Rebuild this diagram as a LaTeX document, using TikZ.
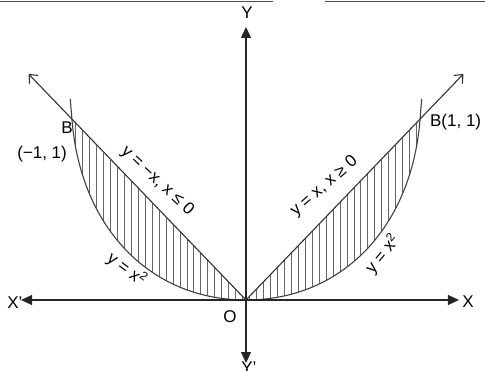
\documentclass[tikz,border=0pt]{standalone}
\usepackage{fontspec}
\setmainfont{Liberation Sans}
\usetikzlibrary{arrows.meta}
\tikzset{
  axis/.style={draw=black!85,line width=1.1bp,-{Triangle[length=11bp,width=10bp]}},
  ray/.style={draw=black!80,line width=1.1bp,-{Straight Barb[length=7bp,width=12bp]}},
  curve/.style={draw=black!75,line width=1.1bp},
  hatch/.style={draw=black!60,line width=0.6bp},
  lbl/.style={inner sep=0pt,font=\fontsize{17bp}{19bp}\selectfont},
}
\begin{document}
\begin{tikzpicture}[x=174bp,y=180bp]
  \useasboundingbox (-1.4138,-0.3944) rectangle (1.3736,1.6667);
  \draw[black!70,line width=1bp] (-1.4138,1.66) -- (0.155,1.66);
  \draw[black!70,line width=1bp] (0.454,1.66) -- (1.3736,1.66);
  \coordinate (O) at (0,0);
  \coordinate (xl) at (-1.293,0);
  \coordinate (xr) at (1.224,0);
  \coordinate (yt) at (0,1.517);
  \coordinate (yb) at (0,-0.35);
  \coordinate (ul) at (-1.25,1.256);
  \coordinate (ur) at (1.25,1.256);
  \begin{scope}
    \clip (-1,1) .. controls (-0.95,0.4) and (-0.55,0) .. (0,0)
      .. controls (0.55,0) and (0.95,0.4) .. (1,1) -- (0,0) -- cycle;
    \foreach \x in {-0.98,-0.94,...,1}
      \draw[hatch] (\x,0) -- (\x,1.05);
  \end{scope}
  \draw[curve] (-1.01,1.117) -- (-1,1) .. controls (-0.95,0.4) and (-0.55,0) .. (0,0)
    .. controls (0.55,0) and (0.95,0.4) .. (1,1) -- (1.01,1.117);
  \draw[axis] (O) -- (xr);
  \draw[axis] (O) -- (xl);
  \draw[axis] (O) -- (yt);
  \draw[axis] (O) -- (yb);
  \draw[ray] (O) -- (ul);
  \draw[ray] (O) -- (ur);
  \node[lbl] (Xr) at (1.276,-0.011) {X};
  \node[lbl] (Xl) at (-1.328,-0.017) {X’};
  \node[lbl] (Yt) at (0.006,1.594) {Y};
  \node[lbl] (Yb) at (0.017,-0.378) {Y’};
  \node[lbl] (Olbl) at (-0.092,-0.094) {O};
  \node[lbl] (Bl) at (-1.029,0.956) {B};
  \node[lbl] (Blc) at (-1.172,0.811) {(−1, 1)};
  \node[lbl,anchor=west] (Br) at (1.057,0.989) {B(1, 1)};
  \node[lbl,rotate=-43] (eql) at (-0.51,0.66) {y = −x, x ≤ 0};
  \node[lbl,rotate=-37] (parl) at (-0.685,0.17) {y = x\textsuperscript{2}};
  \node[lbl,rotate=41] (eqr) at (0.45,0.63) {y = x, x ≥ 0};
  \node[lbl,rotate=50] (parr) at (0.785,0.255) {y = x\textsuperscript{2}};
\end{tikzpicture}
\end{document}
